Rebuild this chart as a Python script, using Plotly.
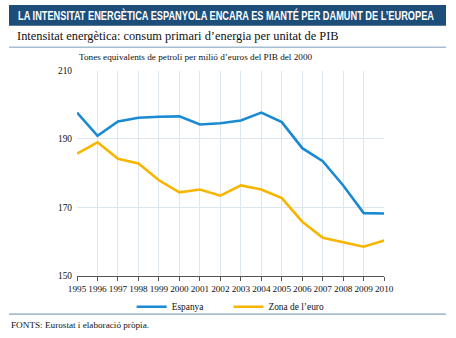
import plotly.graph_objects as go

# Energy intensity, toe per million euros of GDP (2000 prices)
years = list(range(1995, 2011))
espanya = [197.7, 190.9, 195.1, 196.2, 196.5, 196.6, 194.2, 194.6, 195.4, 197.7,
           194.9, 187.3, 183.5, 176.4, 168.3, 168.2]
zona_euro = [185.7, 189.0, 184.2, 182.8, 177.9, 174.4, 175.2, 173.4, 176.4, 175.2,
             172.7, 165.8, 161.1, 159.9, 158.5, 160.3]
y_ticks = [150, 170, 190, 210]

W, H = 456, 338
SERIF = "Liberation Serif, Times New Roman, serif"
BAR_BLUE = "#1d4e7a"
RULE = "#a7bed1"
GRID = "#dce6ee"
TITLE_LEFT = 7     # px, left edge of the headline box
TITLE_WIDTH = 416  # px the headline is condensed to


def px_x(x):
    return x / W


def px_y(y):
    return 1 - y / H


fig = go.Figure()
fig.add_trace(go.Scatter(x=years, y=espanya, name="Espanya", mode="lines",
                         line=dict(color="#1a8ad3", width=2.6), legend="legend"))
fig.add_trace(go.Scatter(x=years, y=zona_euro, name="Zona de l’euro", mode="lines",
                         line=dict(color="#f8b500", width=2.6), legend="legend2"))

shapes = [
    # title band
    dict(type="rect", xref="paper", yref="paper", x0=0, x1=1,
         y0=px_y(21.5), y1=1, fillcolor=BAR_BLUE, line_width=0, layer="below"),
    # rules under the subtitle and above the source note
    dict(type="line", xref="paper", yref="paper", x0=0, x1=1,
         y0=px_y(43.5), y1=px_y(43.5), line=dict(color=RULE, width=1.6)),
    dict(type="line", xref="paper", yref="paper", x0=0, x1=1,
         y0=px_y(318.5), y1=px_y(318.5), line=dict(color=RULE, width=1.6)),
]

annotations = [
    dict(text="LA INTENSITAT ENERGÈTICA ESPANYOLA ENCARA ES MANTÉ PER DAMUNT DE L’EUROPEA",
         xref="paper", yref="paper", x=px_x(TITLE_LEFT), y=px_y(11),
         xanchor="left", yanchor="middle", showarrow=False,
         font=dict(family="Liberation Sans, Arial, sans-serif", size=12.6,
                   color="white", weight="bold")),
    dict(text="Intensitat energètica: consum primari d’energia per unitat de PIB",
         xref="paper", yref="paper", x=px_x(6), y=px_y(31.5), xanchor="left", yanchor="middle",
         showarrow=False, font=dict(family=SERIF, size=12.4, color="#111")),
    dict(text="Tones equivalents de petroli per milió d’euros del PIB del 2000",
         xref="paper", yref="paper", x=px_x(71), y=px_y(54), xanchor="left", yanchor="middle",
         showarrow=False, font=dict(family=SERIF, size=9.2, color="#111")),
    dict(text="FONTS: Eurostat i elaboració pròpia.",
         xref="paper", yref="paper", x=0, y=px_y(330), xanchor="left", yanchor="middle",
         showarrow=False, font=dict(family=SERIF, size=9.2, color="#111")),
]

legend_common = dict(orientation="h", yanchor="middle", xanchor="left",
                     font=dict(family=SERIF, size=9.4, color="#111"),
                     bgcolor="rgba(0,0,0,0)", itemwidth=30)

fig.update_layout(
    width=W, height=H,
    margin=dict(l=0, r=0, t=0, b=0),
    paper_bgcolor="white", plot_bgcolor="white",
    shapes=shapes, annotations=annotations,
    showlegend=True,
    legend=dict(x=px_x(128), y=px_y(311), **legend_common),
    legend2=dict(x=px_x(229), y=px_y(311), **legend_common),
    xaxis=dict(domain=[px_x(71), px_x(391.5)], range=[1995, 2010],
               tickmode="array", tickvals=years, ticktext=[str(y) for y in years],
               tickangle=0,
               showgrid=True, gridcolor=GRID, gridwidth=1,
               showline=True, linecolor="#555", linewidth=1.2,
               ticks="outside", ticklen=4, tickcolor="#555", tickwidth=1,
               tickfont=dict(family=SERIF, size=9.2, color="#111"),
               zeroline=False, fixedrange=True),
    yaxis=dict(domain=[px_y(279), px_y(67.5)], range=[150, 210],
               tickmode="array", tickvals=y_ticks, ticktext=[str(v) for v in y_ticks],
               showgrid=True, gridcolor=GRID, gridwidth=1,
               showline=False, ticks="", ticklabelstandoff=4,
               tickfont=dict(family=SERIF, size=9.4, color="#111"),
               zeroline=False, fixedrange=True),
)

# Squeeze the headline horizontally about its own left edge so it fits the band
condense_title = """
var gd = document.getElementById('{plot_id}');
var t = gd.querySelector('.annotation[data-index="0"] text');
if (t) {
  var s = %d / t.getBBox().width;
  t.style.transformBox = 'fill-box';
  t.style.transformOrigin = 'left center';
  t.style.transform = 'scaleX(' + s + ')';
  var bg = t.parentNode.querySelector('rect.bg');
  if (bg) { bg.setAttribute('width', '%d'); }
}
""" % (TITLE_WIDTH, TITLE_WIDTH)

fig.write_html("out.html", post_script=condense_title)
